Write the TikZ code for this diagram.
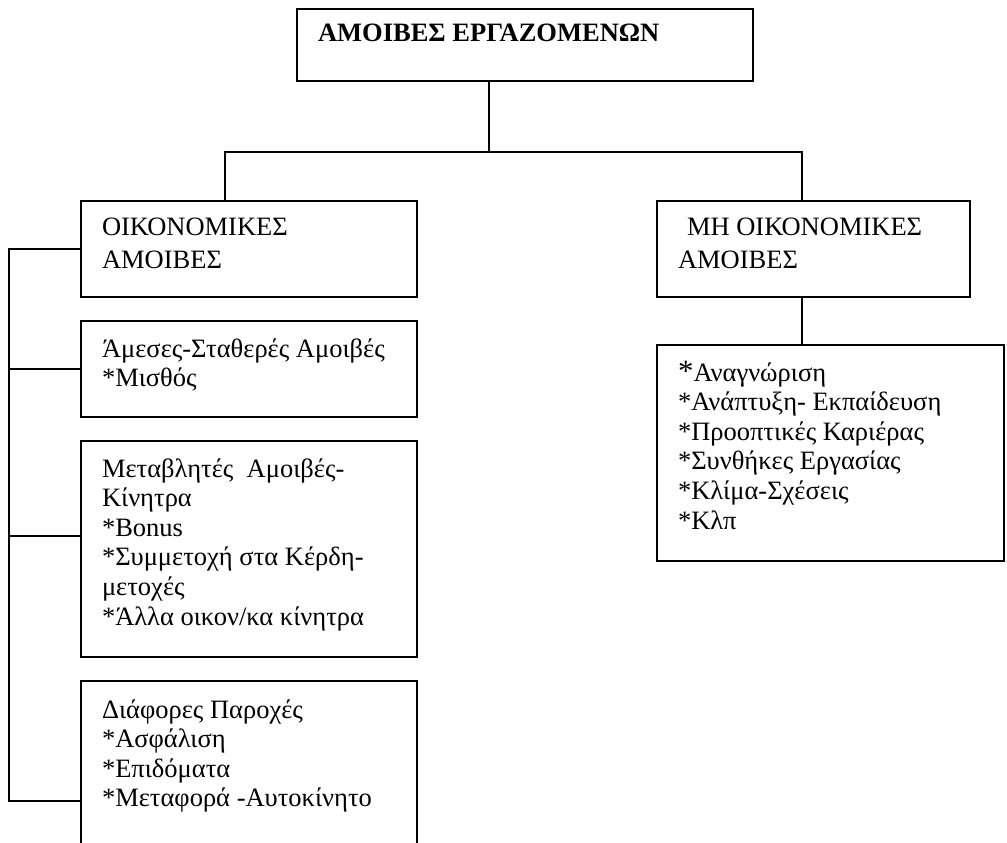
\documentclass[tikz,border=0pt]{standalone}
\usepackage{fontspec}
\setmainfont{Liberation Serif}
\newcommand{\mylines}[1]{\begin{tabular}[t]{@{}l@{}}#1\end{tabular}}
\begin{document}
\begin{tikzpicture}[x=1pt, y=-1pt, line width=1.6pt,
  box/.style={draw, rectangle, inner sep=0pt, outer sep=0pt, anchor=north west},
  lbl/.style={anchor=base west, inner sep=0pt, outer sep=0pt,
    font={\fontsize{26.5}{29.6}\selectfont}},
  hdr/.style={lbl, font={\fontsize{26.5}{33}\selectfont}},
  ttl/.style={lbl, font={\fontsize{26.5}{33}\selectfont\bfseries}}]
\useasboundingbox (0,0) rectangle (1007,843);

% boxes
\node[box, minimum width=456pt, minimum height=72pt]  (top)     at (297,9)   {};
\node[box, minimum width=336pt, minimum height=96pt]  (econ)    at (81,201)  {};
\node[box, minimum width=313pt, minimum height=96pt]  (nonecon) at (657,201) {};
\node[box, minimum width=336pt, minimum height=96pt]  (b2)      at (81,321)  {};
\node[box, minimum width=336pt, minimum height=216pt] (b3)      at (81,441)  {};
\node[box, draw=none, minimum width=336pt, minimum height=180pt] (b4) at (81,681) {};
\draw (b4.south west) -- (b4.north west) -- (b4.north east) -- (b4.south east);
\node[box, minimum width=347pt, minimum height=216pt] (list)    at (657,345) {};

% texts
\node[ttl] (toptxt) at (318,42) {ΑΜΟΙΒΕΣ ΕΡΓΑΖΟΜΕΝΩΝ};
\node[hdr] (econtxt) at (102,235) {\mylines{ΟΙΚΟΝΟΜΙΚΕΣ\\ΑΜΟΙΒΕΣ}};
\node[hdr] (nonecontxt) at (678,235) {\mylines{\hspace*{9pt}ΜΗ ΟΙΚΟΝΟΜΙΚΕΣ\\ΑΜΟΙΒΕΣ}};
\node[lbl] (b2txt) at (102,357) {\mylines{Άμεσες-Σταθερές Αμοιβές\\{}*Μισθός}};
\node[lbl] (b3txt) at (102,477) {\mylines{Μεταβλητές\ \ Αμοιβές-\\Κίνητρα\\{}*Bonus\\{}*Συμμετοχή στα Κέρδη-\\μετοχές\\{}*Άλλα οικον/κα κίνητρα}};
\node[lbl] (b4txt) at (102,718) {\mylines{Διάφορες Παροχές\\{}*Ασφάλιση\\{}*Επιδόματα\\{}*Μεταφορά -Αυτοκίνητο}};
\node[lbl] (listtxt) at (678,381) {\mylines{{\fontsize{31}{29.6}\selectfont *}Αναγνώριση\\{}*Ανάπτυξη- Εκπαίδευση\\{}*Προοπτικές Καριέρας\\{}*Συνθήκες Εργασίας\\{}*Κλίμα-Σχέσεις\\{}*Κλπ}};

% connectors
\coordinate (jt) at (489,152);
\coordinate (jl) at (225,152);
\coordinate (jr) at (802,152);
\draw (top.south -| jt) -- (jt);
\draw (econ.north -| jl) |- (jr) -- (nonecon.north -| jr);
\draw (nonecon.south -| jr) -- (list.north -| jr);

\coordinate (sp)  at (9,249);
\coordinate (spb) at (9,801);
\coordinate (b3j) at (9,536);
\draw (econ.west) -- (sp) -- (spb) -- (b4.west |- spb);
\draw (sp |- b2.west) -- (b2.west);
\draw (b3j) -- (b3.west |- b3j);
\end{tikzpicture}
\end{document}
